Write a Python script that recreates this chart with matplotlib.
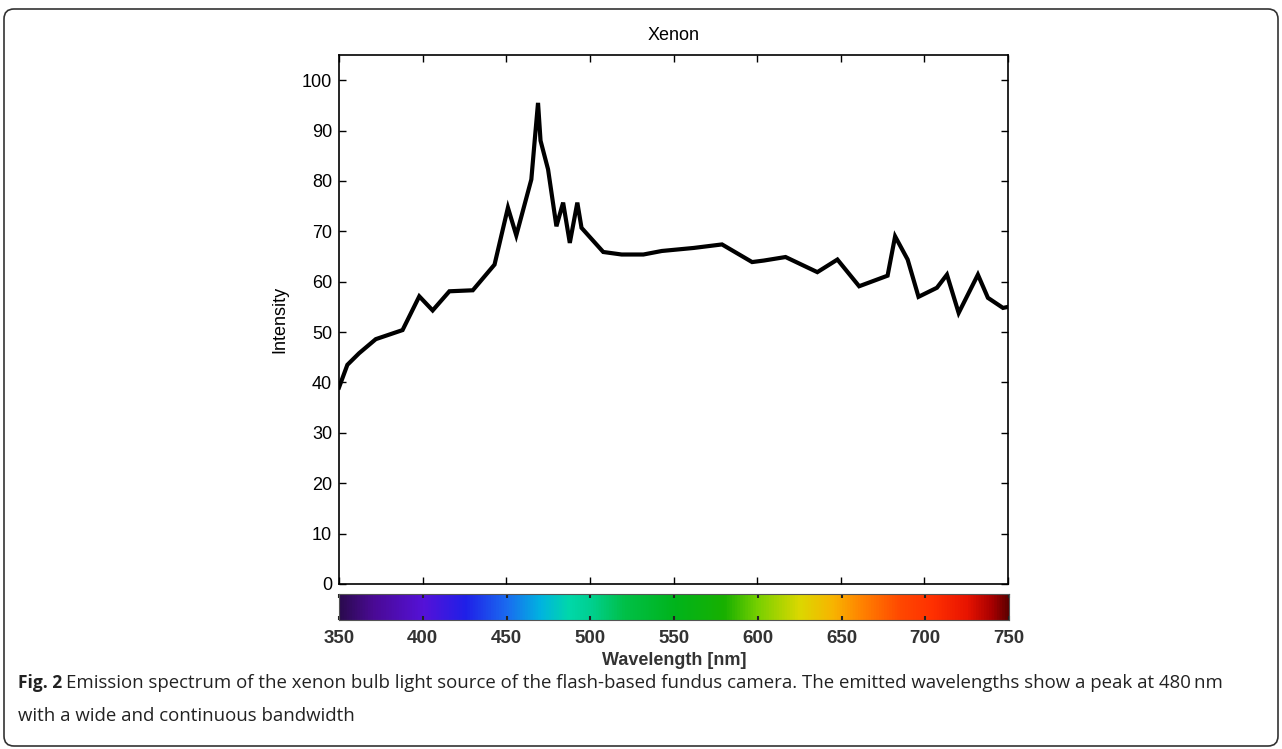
import numpy as np
import matplotlib
matplotlib.use('Agg')
import matplotlib.pyplot as plt
from matplotlib.colors import LinearSegmentedColormap
from matplotlib.patches import FancyBboxPatch
from matplotlib.transforms import IdentityTransform

# emission spectrum
wavelength = [350, 355, 362, 372, 388, 398, 406, 416, 430, 443, 451, 456, 465,
              467, 469, 470.5, 475, 480, 484, 488, 492.5, 495, 508, 519, 532,
              543, 562, 579, 597, 604, 617, 636, 648, 661, 678, 682.5, 690,
              696.5, 707.5, 713.5, 720.5, 732, 738, 747, 750]
intensity = [39, 43.5, 45.8, 48.6, 50.4, 57.1, 54.3, 58.1, 58.3, 63.4, 74.7,
             69.2, 80.3, 88, 95.5, 88, 82.3, 71.0, 75.7, 67.7, 75.7, 70.7,
             65.9, 65.4, 65.4, 66.1, 66.7, 67.4, 63.9, 64.2, 64.9, 61.9, 64.4,
             59.1, 61.2, 69.0, 64.4, 57.0, 58.8, 61.4, 53.8, 61.4, 56.8, 54.8,
             55]

# spectral colour bar stops
cbar_wl = [350, 370, 400, 425, 450, 470, 487, 500, 520, 550, 580, 600, 625,
           645, 660, 685, 705, 725, 740, 750]
cbar_col = ['#2b0a4f', '#4a0a95', '#5512d8', '#2020e8', '#1a6cf0', '#00b4e0',
            '#00d8aa', '#00d090', '#00c048', '#00b41c', '#18b000', '#78d000',
            '#dcd800', '#f8b400', '#ff8800', '#ff4800', '#ff3000', '#e81400',
            '#a80000', '#5c0000']

x_ticks = [350, 400, 450, 500, 550, 600, 650, 700, 750]
y_ticks = list(range(0, 101, 10))

caption_1 = ("Emission spectrum of the xenon bulb light source of the flash-based "
             "fundus camera. The emitted wavelengths show a peak at 480\u2009nm")
caption_2 = "with a wide and continuous bandwidth"

W, H = 1282, 749
fig = plt.figure(figsize=(W / 100, H / 100), dpi=100)
fig.patch.set_facecolor('white')

ax = fig.add_axes([339 / W, 1 - 584 / H, (1008 - 339) / W, (584 - 55) / H])
ax.plot(wavelength, intensity, color='black', lw=3.0, solid_joinstyle='miter')
ax.set_xlim(350, 750)
ax.set_ylim(0, 105)
ax.set_xticks(x_ticks)
ax.set_xticklabels([])
ax.set_yticks(y_ticks)
ax.tick_params(direction='in', length=5, width=1.0, top=True, right=True,
               labelsize=13, pad=5)
for lab in ax.get_yticklabels():
    lab.set_family('Liberation Sans')
for s in ax.spines.values():
    s.set_linewidth(1.2)
ax.set_title('Xenon', family='Liberation Sans', fontsize=13, pad=11)
ax.set_ylabel('Intensity', family='Liberation Sans', fontsize=13, labelpad=10)

# colour bar
cmap = LinearSegmentedColormap.from_list(
    'spec', [((w - 350) / 400, c) for w, c in zip(cbar_wl, cbar_col)])
cax = fig.add_axes([339 / W, 1 - 620 / H, (1009 - 339) / W, 26 / H])
grad = np.linspace(0, 1, 512)[None, :]
cax.imshow(grad, cmap=cmap, aspect='auto', extent=[350, 750, 0, 1])
cax.set_xlim(350, 750)
cax.set_yticks([])
cax.set_xticks(x_ticks)
cax.tick_params(axis='x', direction='in', length=3, width=1.5, top=True,
                colors='#222222', labelsize=13.5, pad=7)
for lab in cax.get_xticklabels():
    lab.set_family('Liberation Sans')
    lab.set_fontweight('bold')
    lab.set_color('#333333')
for s in cax.spines.values():
    s.set_linewidth(0.8)
    s.set_color('#555555')
cax.set_xlabel('Wavelength [nm]', family='Liberation Sans', fontsize=13,
               fontweight='bold', color='#333333', labelpad=4)

# caption
fig.text(18 / W, 1 - 683 / H, 'Fig. 2', family='Open Sans', fontweight='bold',
         fontsize=12.5, va='center', ha='left', color='#222222')
fig.text(66 / W, 1 - 683 / H, caption_1, family=['Open Sans', 'DejaVu Sans'],
         fontsize=13.4, va='center', ha='left', color='#222222')
fig.text(18 / W, 1 - 716 / H, caption_2, family='Open Sans',
         fontsize=13.4, va='center', ha='left', color='#222222')

# rounded frame round the figure
frame = FancyBboxPatch((4, 3), W - 8, H - 12,
                       boxstyle='round,pad=0,rounding_size=10',
                       transform=IdentityTransform(), fill=False,
                       edgecolor='#333333', lw=1.2)
fig.patches.append(frame)

fig.savefig('out.png', dpi=100)
